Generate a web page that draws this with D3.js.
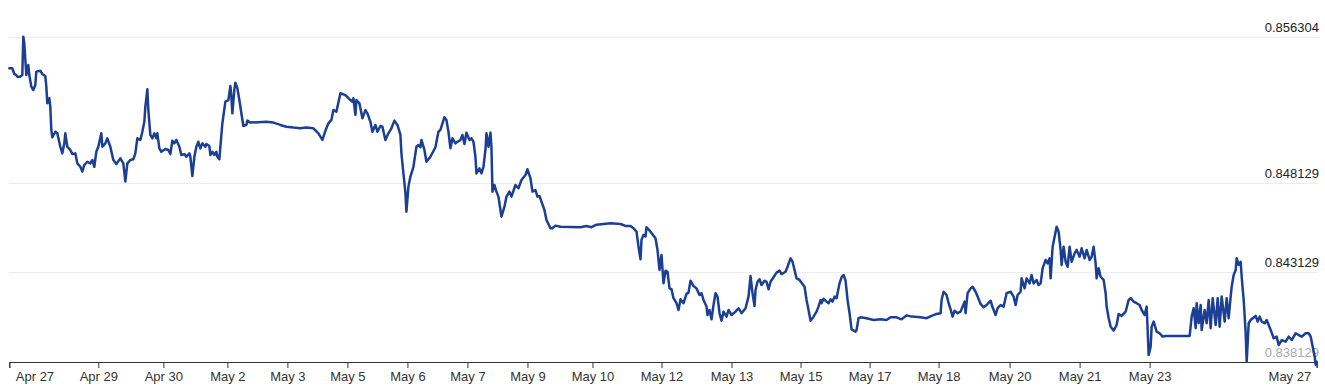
<!DOCTYPE html>
<html><head><meta charset="utf-8">
<script src="https://cdn.jsdelivr.net/npm/d3@7"></script>
<style>html,body{margin:0;padding:0;background:#fff;} svg{display:block;font-family:"Liberation Sans",Arial,sans-serif;}</style>
</head><body><svg id="chart" width="1325" height="392"></svg>
<script>
// sample position (index of observation) and exchange rate
const sampleIndex = [
0,3,5,7,8,11,13,14,15,17,
19,20,22,24,26,27,31,33,36,37,
38,40,41,42,43,46,48,51,53,55,
56,58,61,63,66,68,71,73,75,78,
81,83,85,87,89,92,93,96,98,101,
104,107,111,114,116,118,121,124,126,128,
131,133,135,136,138,139,141,143,145,147,
148,150,152,156,159,161,163,165,167,170,
172,175,177,180,181,183,185,187,189,191,
193,196,197,200,201,203,205,207,208,210,
211,213,216,219,221,222,223,225,226,228,
230,232,234,237,238,241,257,264,271,277,
284,291,297,304,309,313,316,319,322,324,
327,331,336,341,343,344,346,347,350,353,
356,358,361,363,366,368,371,373,376,379,
382,385,388,391,392,394,396,397,399,401,
404,407,409,411,412,415,417,421,426,429,
431,435,437,439,441,443,446,448,451,453,
455,457,460,462,464,466,467,470,472,474,
476,477,479,481,482,483,485,487,489,491,
492,495,497,500,502,506,509,512,516,518,
521,523,526,528,530,532,535,537,541,543,
546,551,571,577,582,587,601,611,616,621,
624,627,629,631,632,634,636,637,641,646,
648,650,652,654,656,658,660,662,664,667,
669,671,674,677,679,681,684,687,690,692,
694,697,698,700,702,704,706,708,710,712,
714,717,719,722,726,729,732,736,739,741,
743,745,746,748,750,752,755,757,759,761,
764,767,770,772,776,778,781,783,785,787,
790,792,795,797,799,801,804,807,809,811,
812,814,817,819,821,823,825,827,830,832,
834,836,838,840,842,846,847,849,851,857,
864,871,877,881,887,892,897,902,911,917,
922,927,931,932,934,937,939,941,943,945,
948,951,953,955,956,958,961,963,966,968,
971,974,977,981,983,986,988,991,994,997,
1001,1004,1006,1008,1011,1012,1015,1017,1020,1022,
1024,1027,1029,1031,1033,1036,1038,1040,1041,1043,
1045,1047,1049,1051,1052,1054,1056,1058,1060,1062,
1065,1067,1070,1072,1075,1077,1080,1082,1084,1086,
1087,1089,1091,1094,1096,1097,1099,1101,1104,1107,
1109,1112,1116,1119,1121,1124,1127,1130,1132,1135,
1137,1138,1139,1141,1142,1144,1147,1150,1153,1156,
1167,1180,1182,1184,1186,1187,1189,1191,1192,1195,
1197,1199,1201,1203,1206,1208,1210,1212,1215,1217,
1219,1221,1222,1224,1226,1227,1229,1231,1232,1234,
1236,1237,1239,1241,1243,1246,1248,1250,1252,1255,
1257,1259,1261,1264,1267,1269,1272,1276,1279,1282,
1286,1289,1292,1296,1299,1301,1303,1305,1306,1307
];
const rate = [
0.85454,0.85454,0.85422,0.85416,0.85407,0.85407,0.85416,0.85630,0.85593,0.85416,
0.85472,0.85416,0.85351,0.85332,0.85360,0.85435,0.85440,0.85422,0.85411,0.85351,
0.85258,0.85286,0.85239,0.85109,0.85068,0.85099,0.85090,0.85015,0.84978,0.85034,
0.85090,0.85015,0.84997,0.84974,0.84978,0.84922,0.84903,0.84876,0.84913,0.84931,
0.84922,0.84941,0.84903,0.84987,0.85015,0.85090,0.85015,0.85034,0.85062,0.85015,
0.84941,0.84919,0.84950,0.84922,0.84820,0.84922,0.84941,0.84945,0.84978,0.85062,
0.85053,0.85099,0.85155,0.85239,0.85336,0.85220,0.85081,0.85062,0.85090,0.85062,
0.85090,0.85006,0.84987,0.85002,0.84997,0.84974,0.85049,0.85034,0.85053,0.85015,
0.84969,0.84974,0.84959,0.84978,0.84959,0.84851,0.84959,0.85015,0.85043,0.85006,
0.85034,0.85015,0.85030,0.85019,0.84969,0.84987,0.84969,0.84987,0.84959,0.84945,
0.85015,0.85146,0.85267,0.85276,0.85355,0.85295,0.85202,0.85336,0.85373,0.85342,
0.85276,0.85202,0.85131,0.85137,0.85161,0.85150,0.85155,0.85150,0.85137,0.85127,
0.85122,0.85118,0.85122,0.85118,0.85090,0.85053,0.85104,0.85146,0.85165,0.85220,
0.85211,0.85314,0.85304,0.85276,0.85267,0.85286,0.85193,0.85276,0.85258,0.85174,
0.85220,0.85202,0.85155,0.85099,0.85137,0.85099,0.85131,0.85127,0.85053,0.85090,
0.85118,0.85161,0.85137,0.85081,0.84978,0.84866,0.84755,0.84652,0.84792,0.84848,
0.84903,0.85015,0.85025,0.85012,0.85053,0.84997,0.84931,0.84959,0.85012,0.85099,
0.85109,0.85180,0.85165,0.85099,0.85006,0.85062,0.85034,0.85043,0.85053,0.85081,
0.85030,0.85094,0.85053,0.85062,0.85043,0.84959,0.84866,0.84894,0.84866,0.84903,
0.84997,0.85090,0.85015,0.85094,0.85015,0.84764,0.84801,0.84764,0.84736,0.84661,
0.84624,0.84680,0.84736,0.84764,0.84736,0.84801,0.84783,0.84829,0.84857,0.84889,
0.84839,0.84764,0.84773,0.84736,0.84740,0.84708,0.84661,0.84605,0.84559,0.84559,
0.84574,0.84568,0.84565,0.84572,0.84565,0.84579,0.84587,0.84583,0.84572,0.84572,
0.84559,0.84540,0.84456,0.84386,0.84494,0.84522,0.84512,0.84565,0.84540,0.84503,
0.84438,0.84326,0.84410,0.84251,0.84322,0.84316,0.84223,0.84218,0.84168,0.84140,
0.84102,0.84162,0.84140,0.84192,0.84199,0.84266,0.84236,0.84223,0.84186,0.84196,
0.84158,0.84121,0.84074,0.84102,0.84050,0.84130,0.84196,0.84177,0.84084,0.84042,
0.84093,0.84065,0.84102,0.84074,0.84093,0.84112,0.84084,0.84112,0.84177,0.84292,
0.84196,0.84124,0.84214,0.84260,0.84274,0.84242,0.84266,0.84260,0.84218,0.84260,
0.84285,0.84311,0.84322,0.84303,0.84316,0.84344,0.84391,0.84372,0.84326,0.84279,
0.84270,0.84255,0.84232,0.84158,0.84102,0.84042,0.84065,0.84093,0.84121,0.84158,
0.84140,0.84165,0.84149,0.84140,0.84162,0.84149,0.84177,0.84168,0.84251,0.84285,
0.84298,0.84266,0.84158,0.84084,0.83994,0.83981,0.83990,0.84056,0.84061,0.84056,
0.84046,0.84050,0.84046,0.84061,0.84061,0.84050,0.84072,0.84065,0.84061,0.84056,
0.84069,0.84080,0.84084,0.84158,0.84204,0.84186,0.84140,0.84106,0.84065,0.84098,
0.84084,0.84093,0.84121,0.84149,0.84084,0.84196,0.84223,0.84232,0.84204,0.84177,
0.84136,0.84117,0.84130,0.84154,0.84117,0.84074,0.84112,0.84130,0.84121,0.84196,
0.84204,0.84177,0.84130,0.84186,0.84204,0.84279,0.84223,0.84279,0.84251,0.84298,
0.84251,0.84270,0.84242,0.84251,0.84335,0.84382,0.84363,0.84391,0.84279,0.84456,
0.84512,0.84568,0.84540,0.84438,0.84354,0.84456,0.84372,0.84344,0.84456,0.84372,
0.84419,0.84438,0.84400,0.84447,0.84391,0.84438,0.84382,0.84400,0.84456,0.84363,
0.84279,0.84335,0.84288,0.84270,0.84196,0.84121,0.84057,0.84009,0.83987,0.84018,
0.84080,0.84069,0.84093,0.84158,0.84168,0.84149,0.84140,0.84130,0.84102,0.84074,
0.84121,0.83990,0.83850,0.83897,0.84009,0.84037,0.83981,0.83972,0.83953,0.83957,
0.83957,0.83957,0.84065,0.84112,0.84000,0.84140,0.84028,0.84130,0.83990,0.84102,
0.84028,0.84158,0.84000,0.84168,0.84018,0.84168,0.84009,0.84177,0.84037,0.84168,
0.84056,0.84177,0.84232,0.84298,0.84326,0.84391,0.84354,0.84372,0.84288,0.84158,
0.83972,0.83813,0.84028,0.84046,0.84056,0.84069,0.84037,0.84065,0.84037,0.84028,
0.84046,0.84018,0.83990,0.83944,0.83953,0.83906,0.83934,0.83925,0.83953,0.83934,
0.83972,0.83962,0.83953,0.83972,0.83972,0.83953,0.83897,0.83841,0.83795,0.83813
];
const tickIndex = [0,89,154,218,278,338,398,458,518,583,652,722,791,860,929,1000,1070,1140,1307];
const tickLabels = ["Apr 27","Apr 29","Apr 30","May 2","May 3","May 5","May 6","May 7","May 9","May 10","May 12","May 13","May 15","May 17","May 18","May 20","May 21","May 23","May 27"];
const gridValues = [0.838129, 0.843129, 0.848129, 0.856304];
const gridLabels = ["0.838129","0.843129","0.848129","0.856304"];

const svg = d3.select("#chart");
const x = d3.scaleLinear().domain([0, 1307]).range([9.3, 1316.7]);
const y = d3.scaleLinear().domain([0.838129, 0.856304]).range([361.7, 36.7]);

// gridlines
svg.append("g").selectAll("line").data(gridValues.slice(1)).join("line")
  .attr("x1", 9).attr("x2", 1318)
  .attr("y1", d => Math.round(y(d)) + 0.5).attr("y2", d => Math.round(y(d)) + 0.5)
  .attr("stroke", "#ececec").attr("stroke-width", 1);

// y labels
svg.append("g").selectAll("text").data(gridValues).join("text")
  .attr("x", 1319).attr("y", d => y(d) - 5)
  .attr("text-anchor", "end")
  .attr("font-size", 13)
  .attr("fill", (d, i) => i === 0 ? "#aaaaaa" : "#222222")
  .text((d, i) => gridLabels[i]);

// x axis
const axis = d3.axisBottom(x).tickValues(tickIndex)
  .tickFormat((d, i) => tickLabels[i]).tickSizeOuter(0).tickSize(6).tickPadding(4);
const gx = svg.append("g").attr("transform", "translate(0,362)").call(axis);
gx.select(".domain").attr("stroke", "#333");
gx.selectAll(".tick line").attr("stroke", "#333");
gx.selectAll(".tick text").attr("font-size", 13).attr("fill", "#333")
  .attr("font-family", "Liberation Sans, Arial, sans-serif");
const x0 = x.range()[0], x1 = x.range()[1];
gx.selectAll(".tick").each(function(d) {
  const t = d3.select(this).select("text");
  const w = t.node().getComputedTextLength();
  const cx = x(d);
  let left = cx - w / 2;
  if (left < x0 + 6) left = x0 + 6;
  if (left + w > x1 - 6) left = x1 - 6 - w;
  t.attr("text-anchor", "start").attr("x", left - cx);
});

// line
const data = sampleIndex.map((s, i) => [s, rate[i]]);
svg.append("path").datum(data)
  .attr("fill", "none")
  .attr("stroke", "#1b3f94")
  .attr("stroke-width", 2.5)
  .attr("stroke-linejoin", "round")
  .attr("stroke-linecap", "round")
  .attr("d", d3.line().x(d => x(d[0])).y(d => y(d[1])));
</script>
</body></html>
